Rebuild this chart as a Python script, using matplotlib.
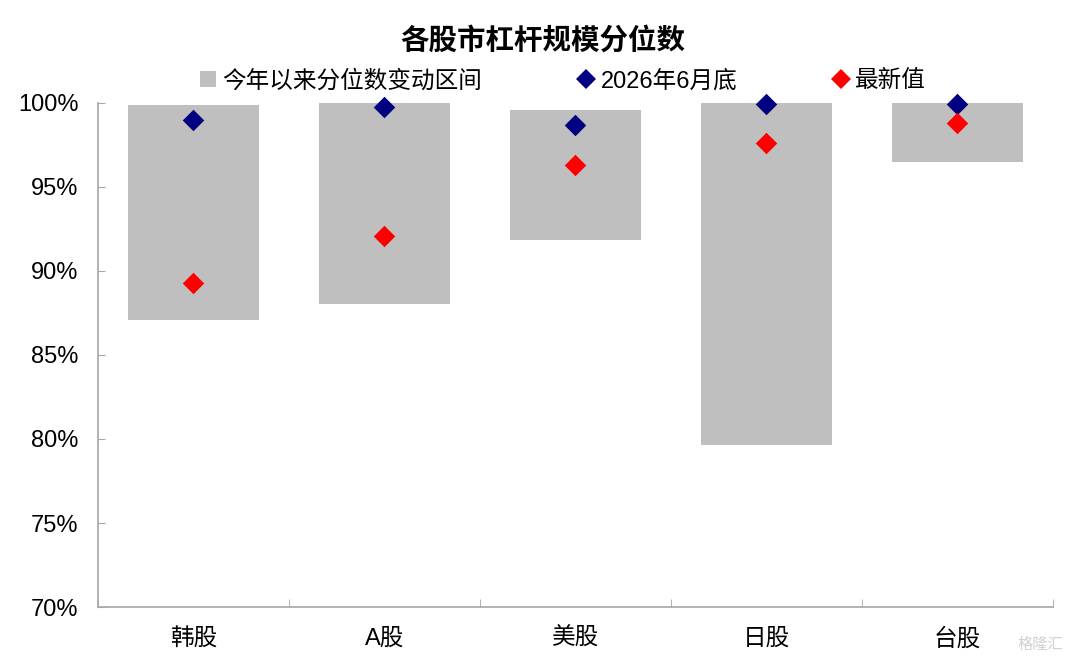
import matplotlib
matplotlib.use('Agg')
import matplotlib.pyplot as plt
from matplotlib.lines import Line2D
from matplotlib.ticker import FuncFormatter

plt.rcParams['font.family'] = ['Liberation Sans', 'Noto Sans CJK SC', 'DejaVu Sans']

markets = ['韩股', 'A股', '美股', '日股', '台股']
range_low = [87.06, 88.05, 91.86, 79.64, 96.49]
range_high = [99.85, 100.0, 99.6, 100.0, 100.0]
end_june = [98.99, 99.78, 98.69, 99.92, 99.92]
latest = [89.29, 92.06, 96.31, 97.62, 98.81]

gray = '#BFBFBF'
navy = '#000080'
red = '#FF0000'
axis_color = '#A6A6A6'

fig = plt.figure(figsize=(10.8, 6.65), dpi=100)
ax = fig.add_axes([0.0907, 0.0872, 0.884, 0.758])

x = list(range(len(markets)))
heights = [h - l for h, l in zip(range_high, range_low)]
ax.bar(x, heights, bottom=range_low, width=0.685, color=gray, zorder=1)
ax.scatter(x, end_june, marker='D', s=120, color=navy, zorder=3,
           linewidths=0, clip_on=False)
ax.scatter(x, latest, marker='D', s=120, color=red, zorder=3,
           linewidths=0, clip_on=False)

ax.set_xlim(-0.5, len(markets) - 0.5)
ax.set_ylim(70, 100)
ax.set_yticks(range(70, 101, 5))
ax.yaxis.set_major_formatter(FuncFormatter(lambda v, _: '{:.0f}%'.format(v)))
ax.set_xticks(x)
ax.set_xticklabels(markets)
ax.set_xticks([i - 0.5 for i in range(len(markets) + 1)], minor=True)

for side in ['top', 'right']:
    ax.spines[side].set_visible(False)
for side in ['left', 'bottom']:
    ax.spines[side].set_color(axis_color)
    ax.spines[side].set_linewidth(1.2)

ax.tick_params(axis='y', direction='in', length=5, color=axis_color,
               labelsize=17, pad=14)
ax.tick_params(axis='x', which='major', length=0, labelsize=17, pad=15)
ax.tick_params(axis='x', which='minor', direction='in', length=6,
               color=axis_color)

fig.suptitle('各股市杠杆规模分位数', x=0.503, y=0.96, fontsize=20.5,
             fontweight='bold')

handles = [
    Line2D([], [], marker='s', linestyle='none', markersize=12,
           markerfacecolor=gray, markeredgewidth=0),
    Line2D([], [], marker='D', linestyle='none', markersize=10,
           markerfacecolor=navy, markeredgewidth=0),
    Line2D([], [], marker='D', linestyle='none', markersize=10,
           markerfacecolor=red, markeredgewidth=0),
]
labels = ['今年以来分位数变动区间', '2026年6月底', '最新值']
fig.legend(handles, labels, loc='center', bbox_to_anchor=(0.522, 0.878),
           ncol=3, frameon=False, fontsize=17, handlelength=0.6,
           handletextpad=0.3, columnspacing=4.1)

fig.text(0.985, 0.02, '格隆汇', ha='right', va='bottom', fontsize=11,
         color='#D0D0D0')

plt.savefig('out.png', dpi=100)
